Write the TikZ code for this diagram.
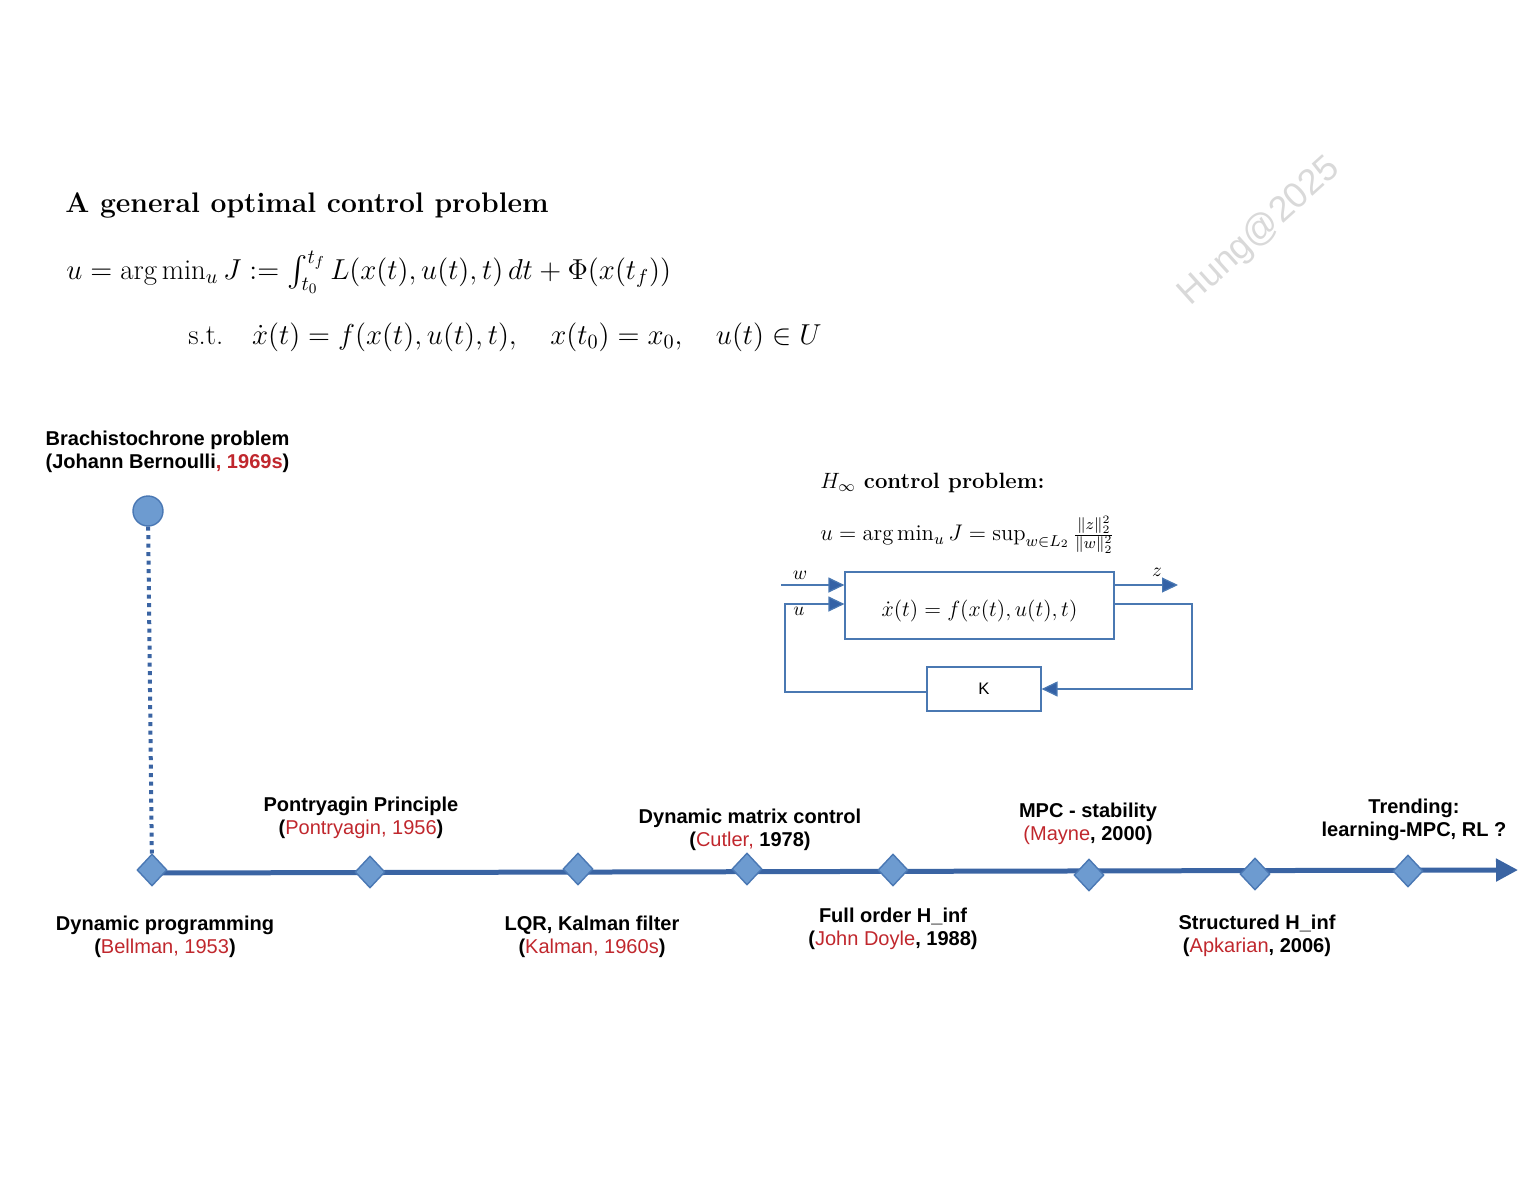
\documentclass[tikz,border=0pt]{standalone}
\usepackage{fix-cm}
\usepackage{amsmath}
\usepackage{fontspec}
\newfontfamily\arialfont{Liberation Sans}
\usepackage{tikz}
\usetikzlibrary{shapes,shapes.geometric,arrows.meta,calc,positioning}
\definecolor{tlblue}{RGB}{58,100,163}
\definecolor{dmfill}{RGB}{109,155,208}
\definecolor{dmdraw}{RGB}{74,120,180}
\definecolor{diagblue}{RGB}{74,120,178}
\definecolor{headblue}{RGB}{52,98,166}
\definecolor{tlred}{RGB}{192,39,45}
\tikzset{event/.style={diamond,draw=dmdraw,fill=dmfill,line width=0.8pt,inner sep=0pt,minimum width=0.6cm,minimum height=0.64cm},
lbl/.style={font=\arialfont\bfseries\fontsize{11.4}{13.1}\selectfont,align=center,inner sep=0pt},
blk/.style={draw=diagblue,line width=0.7pt,inner sep=0pt},
sig/.style={draw=diagblue,line width=0.7pt,->}}
\newcommand{\who}[1]{\textcolor{tlred}{\mdseries #1}}

\begin{document}
\begin{tikzpicture}[x=0.02cm, y=-0.02cm, >={Triangle[length=0.32cm,width=0.3cm,fill=headblue]}]
\useasboundingbox (0,0) rectangle (1536,1187);
% problem statement
\node[anchor=west, inner sep=0pt, font=\bfseries\fontsize{16.1}{19}\selectfont] (T0) at (65,205) {A general optimal control problem};
\node[anchor=west, inner sep=0pt, font=\fontsize{16.4}{19}\selectfont] (E0) at (66,272) {$u=\arg\min_u J := \int_{t_0}^{t_f} L(x(t),u(t),t)\,dt + \Phi(x(t_f))$};
\node[anchor=west, inner sep=0pt, font=\fontsize{16.4}{19}\selectfont] (E1) at (188,337) {s.t.\quad $\dot x(t) = f(x(t),u(t),t),\quad x(t_0)=x_0,\quad u(t)\in U$};
\node[rotate=42, text=black!15, font=\arialfont\fontsize{20.5}{25}\selectfont] (W) at (1260,232) {Hung@2025};

% H_inf block diagram
\node[anchor=west, inner sep=0pt, font=\bfseries\fontsize{12.6}{15}\selectfont] (T1) at (820,483) {$H_\infty$ control problem:};
\node[anchor=west, inner sep=0pt, font=\fontsize{12.85}{15}\selectfont] (E2) at (820,535) {$u=\arg\min_u J = \sup_{w\in L_2}\frac{\|z\|_2^2}{\|w\|_2^2}$};
\node[blk, minimum width=5.38cm, minimum height=1.34cm, text height=0.53cm, font=\fontsize{12.5}{14}\selectfont] (P) at (979.5,605.5) {$\dot x(t) = f(x(t),u(t),t)$};
\node[blk, minimum width=2.28cm, minimum height=0.88cm, font=\arialfont\fontsize{9.5}{11}\selectfont] (K) at (984,689) {K};
\coordinate (win) at (781,585);
\coordinate (uin) at (785,604);
\coordinate (zout) at (1178,585);
\coordinate (fb) at (1192,604);
\draw[sig] (win) -- (win -| P.west);
\draw[sig] ([yshift=-0.06cm]K.west) -| (uin) -- (uin -| P.west);
\draw[sig] (zout -| P.east) -- (zout);
\draw[sig] (fb -| P.east) -- (fb) |- (K.east);
\node[inner sep=0pt, font=\fontsize{11}{13}\selectfont] (lw) at (800,575) {$w$};
\node[inner sep=0pt, font=\fontsize{11}{13}\selectfont] (lu) at (799,611) {$u$};
\node[inner sep=0pt, font=\fontsize{11}{13}\selectfont] (lz) at (1157,572) {$z$};

% timeline
\coordinate (A0) at (152,873);
\coordinate (A1) at (1518,870);
\draw[tlblue, line width=0.1cm, -{Triangle[length=0.44cm,width=0.44cm]}] (A0) -- (A1);
\node[event] (D0) at (152,870) {};
\node[event] (D1) at (370,872) {};
\node[event] (D2) at (578,869) {};
\node[event] (D3) at (747,869) {};
\node[event] (D4) at (893,870) {};
\node[event] (D5) at (1089,875) {};
\node[event] (D6) at (1255,874) {};
\node[event] (D7) at (1408,871) {};
\node[circle, draw=dmdraw, fill=dmfill, line width=0.8pt, minimum size=0.6cm, inner sep=0pt] (C0) at (148,511) {};
\draw[tlblue, line width=0.08cm, dash pattern=on 0.08cm off 0.09cm] (C0) -- (D0);

\node[lbl, align=left, above=0.45cm of C0, xshift=0.39cm] (L8) {Brachistochrone problem\\(Johann Bernoulli\textcolor{tlred}{, 1969s})};
\node[lbl, below=0.58cm of D0, xshift=0.26cm] (L0) {Dynamic programming\\(\who{Bellman, 1953})};
\node[lbl, above=0.32cm of D1, xshift=-0.18cm] (L1) {Pontryagin Principle\\(\who{Pontryagin, 1956})};
\node[lbl, below=0.6cm of D2, xshift=0.28cm] (L2) {LQR, Kalman filter\\(\who{Kalman, 1960s})};
\node[lbl, above=0.02cm of D3, xshift=0.06cm] (L3) {Dynamic matrix control\\(\who{Cutler,} 1978)};
\node[lbl, below=0.42cm of D4] (L4) {Full order H\_inf\\(\who{John Doyle}, 1988)};
\node[lbl, above=0.26cm of D5, xshift=-0.02cm] (L5) {MPC - stability\\\who{(Mayne}, 2000)};
\node[lbl, below=0.48cm of D6, xshift=0.04cm] (L6) {Structured H\_inf\\(\who{Apkarian}, 2006)};
\node[lbl, above=0.26cm of D7, xshift=0.12cm] (L7) {Trending:\\learning-MPC, RL ?};
\end{tikzpicture}
\end{document}
